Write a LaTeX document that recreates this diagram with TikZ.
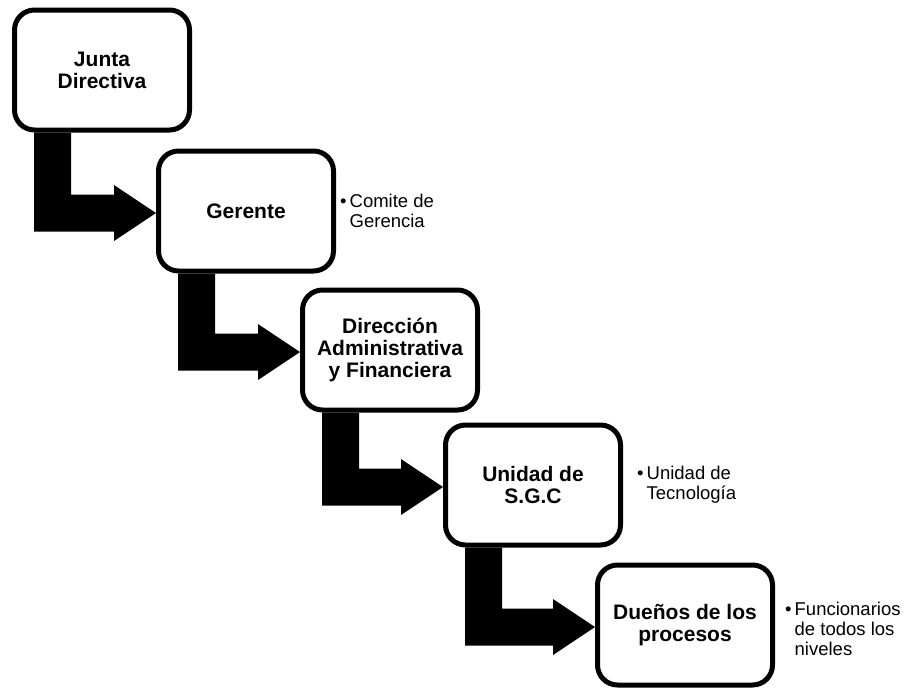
\documentclass[tikz,border=0pt]{standalone}
\usepackage{fontspec}
\setmainfont{Liberation Sans}
\usetikzlibrary{positioning, calc}

\tikzset{
	orgbox/.style={draw=black, line width=5pt, rounded corners=20pt, fill=white,
		minimum width=175pt, minimum height=120pt, align=center,
		font=\bfseries\fontsize{21pt}{22pt}\selectfont},
	notes/.style={inner sep=0pt, align=left, font=\fontsize{18.5pt}{20pt}\selectfont},
	bentarrow/.style={draw=none, fill=black, to path={
		($(\tikztostart.south west)+(22pt,0pt)$) |- ($(\tikztotarget.west)+(-42pt,-20.5pt)$)
		-- ++(0pt,-9.5pt) -- ($(\tikztotarget.west)+(0pt,-2pt)$) -- ($(\tikztotarget.west)+(-42pt,26pt)$)
		-- ++(0pt,-9.5pt) -| ($(\tikztostart.south west)+(59pt,0pt)$) -- cycle}}
}
\newcommand{\bulletline}{\textbullet\hspace{3pt}}
\newcommand{\bulletpad}{\hphantom{\textbullet\hspace{3pt}}}

\begin{document}
\begin{tikzpicture}
				\useasboundingbox (0,0) rectangle (907pt,-688pt);
				\node[orgbox] (jd) at (102pt,-70pt) {Junta\\Directiva};
				\node[orgbox, below right=16pt and -36pt of jd] (ger) {Gerente};
				\node[orgbox, below right=14pt and -36pt of ger] (daf) {Direcci\'on\\Administrativa\\y Financiera};
				\node[orgbox, below right=10pt and -37pt of daf] (sgc) {Unidad de\\S.G.C};
				\node[orgbox, below right=15pt and -28pt of sgc] (dp) {Due\~nos de los\\procesos};
				\node[notes, right=4pt of ger] (nger) {\bulletline Comite de\\\bulletpad Gerencia};
				\node[notes, right=14pt of sgc] (nsgc) {\bulletline Unidad de\\\bulletpad Tecnolog\'ia};
				\node[notes, right=10pt of dp, yshift=-4pt] (ndp) {\bulletline Funcionarios\\\bulletpad de todos los\\\bulletpad niveles};
				\path (jd) edge[bentarrow] (ger)
					(ger) edge[bentarrow] (daf)
					(daf) edge[bentarrow] (sgc)
					(sgc) edge[bentarrow] (dp);
			\end{tikzpicture}
\end{document}
